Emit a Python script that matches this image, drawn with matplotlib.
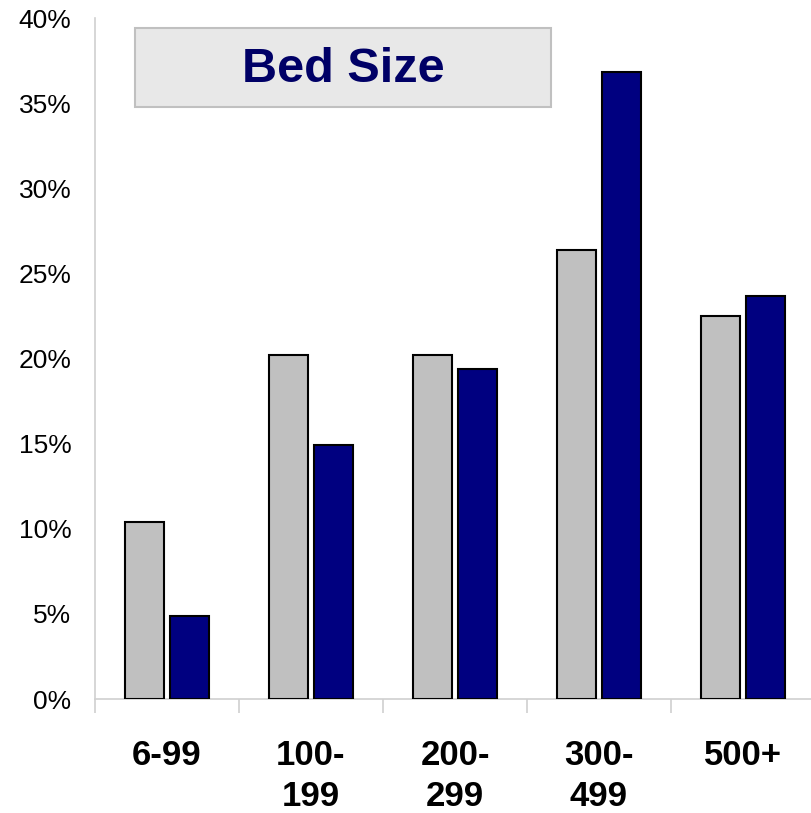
import numpy as np
import matplotlib.pyplot as plt
from matplotlib.patches import Rectangle

plt.rcParams['font.family'] = ['Liberation Sans', 'DejaVu Sans']

categories = ['6-99', '100-\n199', '200-\n299', '300-\n499', '500+']
gray_vals = [10.4, 20.2, 20.2, 26.4, 22.5]
blue_vals = [4.9, 14.9, 19.4, 36.8, 23.7]
yticks = [0, 5, 10, 15, 20, 25, 30, 35, 40]

fig = plt.figure(figsize=(8.11, 8.13), dpi=100)
ax = fig.add_axes([95 / 811, (813 - 699) / 813, 720 / 811, (699 - 18) / 813])

x = np.arange(len(categories))
w = 0.27
ax.bar(x - 0.155, gray_vals, w, color='#c0c0c0', edgecolor='black', linewidth=1.5, zorder=3)
ax.bar(x + 0.155, blue_vals, w, color='#000080', edgecolor='black', linewidth=1.5, zorder=3)

ax.set_xlim(-0.5, 4.5)
ax.set_ylim(0, 40)

ax.set_yticks(yticks)
ax.set_yticklabels([f'{v}%' for v in yticks], fontsize=19)
ax.tick_params(axis='y', length=0, pad=17)

ax.set_xticks(x)
ax.set_xticklabels(categories, fontsize=25, fontweight='bold', va='top', linespacing=1.3)
ax.tick_params(axis='x', which='major', length=0, pad=29)
ax.set_xticks(np.arange(-0.5, 5, 1), minor=True)
ax.tick_params(axis='x', which='minor', length=10, color='#d0d0d0', width=1.2)

for s in ['top', 'right']:
    ax.spines[s].set_visible(False)
for s in ['left', 'bottom']:
    ax.spines[s].set_color('#d0d0d0')
    ax.spines[s].set_linewidth(1.2)

# title box
box = Rectangle((135 / 811, 1 - 107 / 813), (551 - 135) / 811, (107 - 28) / 813,
                transform=fig.transFigure, facecolor='#e8e8e8', edgecolor='#c0c0c0',
                linewidth=1.5, zorder=5)
fig.patches.append(box)
fig.text(343 / 811, 1 - 69 / 813, 'Bed Size', fontsize=35, fontweight='bold',
         color='#000066', ha='center', va='center', zorder=6)

fig.savefig('out.png', dpi=100)
